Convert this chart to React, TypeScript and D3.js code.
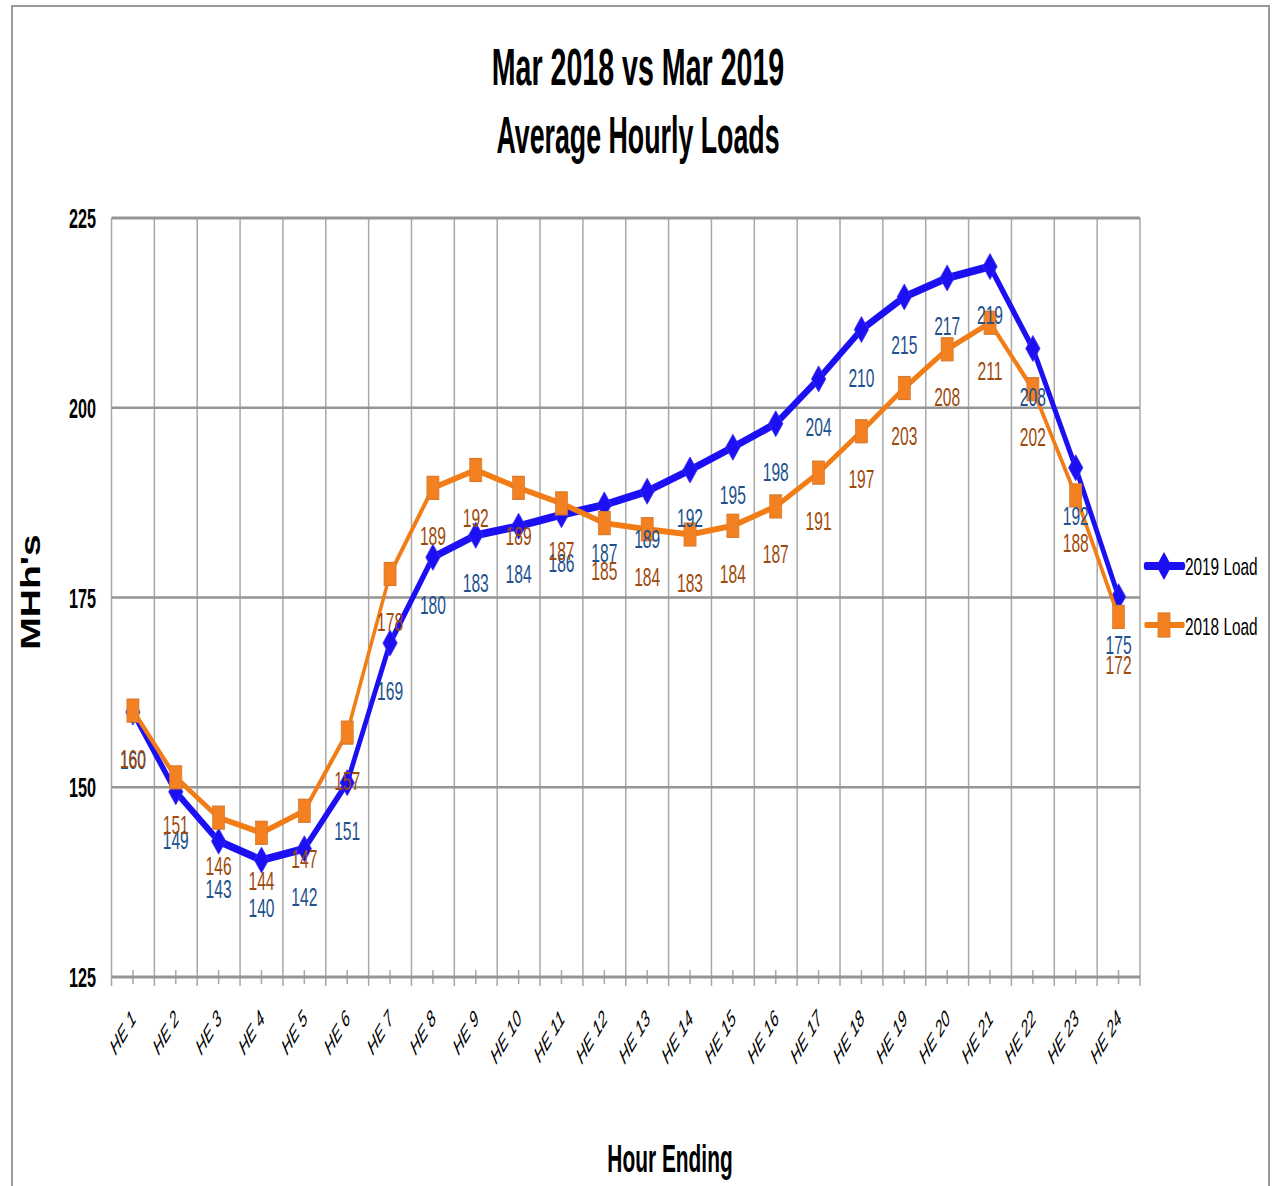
import React from 'react';
import * as d3 from 'd3';

const categories = ['HE 1','HE 2','HE 3','HE 4','HE 5','HE 6','HE 7','HE 8','HE 9','HE 10','HE 11','HE 12','HE 13','HE 14','HE 15','HE 16','HE 17','HE 18','HE 19','HE 20','HE 21','HE 22','HE 23','HE 24'];
const load2019 = [159.9,149.4,142.9,140.4,141.9,150.6,169.0,180.3,183.2,184.4,185.9,187.2,189.0,191.8,194.8,197.9,203.8,210.3,214.6,217.1,218.6,207.8,192.1,175.1];
const load2018 = [160.1,151.3,146.0,144.0,146.9,157.2,178.1,189.45,191.8,189.45,187.4,184.8,184.0,183.3,184.45,187.0,191.45,196.9,202.6,207.7,211.2,202.45,188.45,172.45];
const yTicks = [125,150,175,200,225];
const seriesNames = ['2019 Load','2018 Load'];
const titleLines = ['Mar 2018 vs Mar 2019','Average Hourly Loads'];

const W = 1272, H = 1186;
const PL = 111.5, PR = 1140, PT = 218, PB = 977;
const SX = 0.55;
const FONT = "'Liberation Sans', Arial, sans-serif";

const BLUE = '#1C10F2';
const ORANGE = '#F27D16';
const BLUE_LBL = '#22508C';
const ORANGE_LBL = '#9E4A0C';

function CText(props: any) {
  const { x, y, sx, size, weight, italic, fill, anchor, rotate, children } = props;
  return (
    <text
      transform={`translate(${x},${y}) scale(${sx},1)${rotate ? ` rotate(${rotate})` : ''}`}
      fontSize={size}
      fontWeight={weight || 'normal'}
      fontStyle={italic ? 'italic' : 'normal'}
      fill={fill || '#000'}
      textAnchor={anchor || 'start'}
      fontFamily={FONT}
    >
      {children}
    </text>
  );
}

const diamond = (cx: number, cy: number, r: number) =>
  `M${cx},${cy - r}L${cx + r},${cy}L${cx},${cy + r}L${cx - r},${cy}Z`;

export default function App() {
  const x = d3.scaleBand<string>().domain(categories).range([PL, PR]).padding(0);
  const bw = x.bandwidth();
  const cx = (c: string) => (x(c) as number) + bw / 2;
  const y = d3.scaleLinear().domain([125, 225]).range([PB, PT]);

  const line = d3
    .line<number>()
    .x((_, i) => cx(categories[i]) / SX)
    .y((d) => y(d))
    .curve(d3.curveLinear);

  const boundaries = d3.range(categories.length + 1).map((i) => PL + i * bw);

  return (
    <svg width={W} height={H} style={{ position: 'absolute', left: 0, top: 0, background: '#fff' }}>
      <rect x={0} y={0} width={W} height={H} fill="#fff" />
      {/* outer border */}
      <path d={`M12,${H}V6H1269V${H}`} fill="none" stroke="#9A9A9A" strokeWidth={2} />

      {/* title */}
      <CText x={638} y={85} sx={0.55} size={52} weight="bold" anchor="middle">{titleLines[0]}</CText>
      <CText x={638} y={153} sx={0.515} size={52} weight="bold" anchor="middle">{titleLines[1]}</CText>

      {/* vertical gridlines */}
      {boundaries.map((bx, i) => (
        <line key={'vg' + i} x1={bx} x2={bx} y1={PT} y2={PB + 9} stroke="#A8A8A8" strokeWidth={1.5} />
      ))}
      {/* minor ticks at category centers */}
      {categories.map((c) => (
        <line key={'mt' + c} x1={cx(c)} x2={cx(c)} y1={PB - 7} y2={PB + 7} stroke="#A8A8A8" strokeWidth={1.5} />
      ))}
      {/* horizontal gridlines */}
      {yTicks.map((t) => (
        <line key={'hg' + t} x1={PL} x2={PR} y1={y(t)} y2={y(t)} stroke="#959595" strokeWidth={t === 125 || t === 225 ? 3 : 2.5} />
      ))}

      {/* y tick labels */}
      {yTicks.map((t) => (
        <CText key={'yl' + t} x={96} y={y(t) + 10} sx={0.58} size={28} weight="bold" anchor="end">{String(t)}</CText>
      ))}

      {/* y title */}
      <CText x={40} y={592} sx={0.71} size={39} weight="bold" anchor="middle" rotate={-90}>MHh's</CText>

      {/* x labels */}
      {categories.map((c) => (
        <CText key={'xl' + c} x={cx(c) + 4} y={1020} sx={0.59} size={23} italic anchor="end" rotate={-45}>{c}</CText>
      ))}

      {/* x title */}
      <CText x={670} y={1172} sx={0.55} size={38} weight="bold" anchor="middle">Hour Ending</CText>

      {/* series */}
      <g transform={`scale(${SX},1)`}>
        <path d={line(load2019) || ''} fill="none" stroke={BLUE} strokeWidth={8} strokeLinejoin="round" />
        {load2019.map((v, i) => (
          <path key={'d' + i} d={diamond(cx(categories[i]) / SX, y(v), 13)} fill={BLUE} stroke="#3A30F5" strokeWidth={1} />
        ))}
        <path d={line(load2018) || ''} fill="none" stroke={ORANGE} strokeWidth={6} strokeLinejoin="round" />
        {load2018.map((v, i) => (
          <rect key={'s' + i} x={cx(categories[i]) / SX - 11} y={y(v) - 11.5} width={22} height={23} fill="#F38121" stroke="#D5792F" strokeWidth={1.2} />
        ))}

        {/* legend markers */}
        <line x1={1146 / SX} x2={1183 / SX} y1={566} y2={566} stroke={BLUE} strokeWidth={8} strokeLinecap="round" />
        <path d={diamond(1164 / SX, 566, 14)} fill={BLUE} />
        <line x1={1146 / SX} x2={1183 / SX} y1={625} y2={625} stroke={ORANGE} strokeWidth={6} strokeLinecap="round" />
        <rect x={1164 / SX - 11} y={625 - 12} width={22} height={24} fill="#F38121" stroke="#D5792F" strokeWidth={1.2} />
      </g>

      {/* data labels */}
      {load2019.map((v, i) => (
        <CText key={'bl' + i} x={cx(categories[i])} y={y(v) + 57} sx={0.6} size={26} fill={BLUE_LBL} anchor="middle">{String(Math.round(v))}</CText>
      ))}
      {load2018.map((v, i) => (
        <CText key={'ol' + i} x={cx(categories[i])} y={y(v) + 57} sx={0.6} size={26} fill={ORANGE_LBL} anchor="middle">{String(Math.round(v))}</CText>
      ))}

      {/* legend text */}
      <CText x={1185} y={575} sx={0.64} size={24}>{seriesNames[0]}</CText>
      <CText x={1185} y={635} sx={0.64} size={24}>{seriesNames[1]}</CText>
    </svg>
  );
}
